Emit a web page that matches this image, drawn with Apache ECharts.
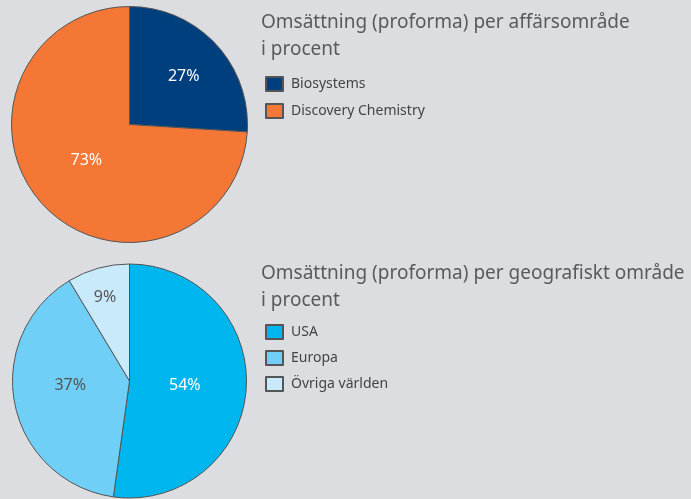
<!DOCTYPE html>
<html>
<head>
<meta charset="utf-8">
<script src="https://cdn.jsdelivr.net/npm/echarts@6/dist/echarts.min.js"></script>
<style>
  html, body { margin: 0; padding: 0; background: #dcdde0; }
  #chart { width: 691px; height: 499px; }
</style>
</head>
<body>
<div id="chart"></div>
<script>
// affärsområde (slice sizes as drawn, labels as printed)
var areaNames = ['Biosystems', 'Discovery Chemistry'];
var areaValues = [26, 74];
var areaLabels = ['27%', '73%'];
// geografiskt område
var geoNames = ['USA', 'Europa', 'Övriga världen'];
var geoValues = [52.2, 39.2, 8.6];
var geoLabels = ['54%', '37%', '9%'];

var areaColors = ['#003f7e', '#f47735'];
var areaLabelColors = ['#ffffff', '#ffffff'];
var areaLabelOffsets = [[9, -6], [2, -7]];
var geoColors = ['#00b6ef', '#6fcff6', '#c9eafb'];
var geoLabelColors = ['#ffffff', '#555555', '#555555'];
var geoLabelOffsets = [[-6, 0], [1, -8], [-8, -24]];

var myChart = echarts.init(document.getElementById('chart'));

function buildData(names, values, labels, colors, labelColors, offsets) {
  return names.map(function (n, i) {
    return {
      name: n,
      value: values[i],
      itemStyle: { color: colors[i] },
      label: { formatter: labels[i], color: labelColors[i], offset: offsets[i] }
    };
  });
}

var fontFam = '"Noto Sans", sans-serif';
var pieBase = {
  type: 'pie',
  radius: 118,
  animation: false,
  silent: true,
  itemStyle: { borderColor: '#555', borderWidth: 1 },
  label: {
    position: 'inside',
    fontSize: 16,
    fontFamily: fontFam
  },
  labelLine: { show: false }
};

var titleStyle = { fontSize: 19, fontWeight: 'normal', color: '#5a5a5a', lineHeight: 27, fontFamily: fontFam };
var legendText = { fontSize: 14, color: '#444', fontFamily: fontFam, padding: [0, 0, 0, 3] };

var option = {
  backgroundColor: '#dcdde0',
  title: [
    {
      text: 'Omsättning (proforma) per affärsområde\ni procent',
      left: 261, top: 9, padding: 0,
      textStyle: titleStyle
    },
    {
      text: 'Omsättning (proforma) per geografiskt område\ni procent',
      left: 261, top: 260, padding: 0,
      textStyle: titleStyle
    }
  ],
  legend: [
    {
      data: areaNames,
      orient: 'vertical',
      left: 265, top: 76, padding: 0,
      itemWidth: 17, itemHeight: 14, itemGap: 11,
      icon: 'rect',
      textStyle: legendText
    },
    {
      data: geoNames,
      orient: 'vertical',
      left: 265, top: 324, padding: 0,
      itemWidth: 17, itemHeight: 14, itemGap: 10,
      icon: 'rect',
      textStyle: legendText
    }
  ],
  series: [
    Object.assign({}, pieBase, {
      name: 'affärsområde',
      center: [129.5, 124.5],
      data: buildData(areaNames, areaValues, areaLabels, areaColors, areaLabelColors, areaLabelOffsets)
    }),
    Object.assign({}, pieBase, {
      name: 'geografiskt område',
      center: [129.5, 381],
      radius: 117,
      data: buildData(geoNames, geoValues, geoLabels, geoColors, geoLabelColors, geoLabelOffsets)
    })
  ]
};

myChart.setOption(option);
</script>
</body>
</html>
